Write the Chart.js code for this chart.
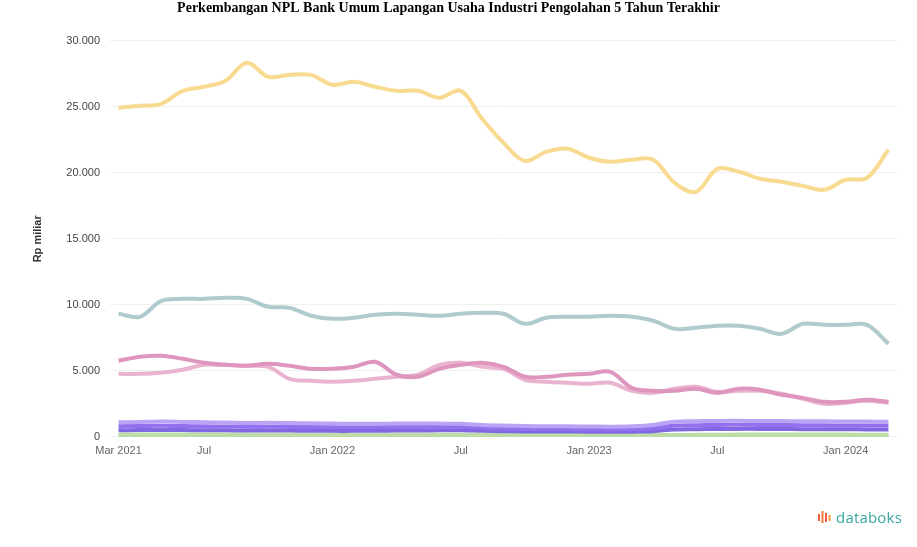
<!DOCTYPE html>
<html>
<head>
<meta charset="utf-8">
<script src="https://cdn.jsdelivr.net/npm/chart.js@4.4.0/dist/chart.umd.min.js"></script>
<style>
  html,body{margin:0;padding:0;background:#fff;}
  #wrap{position:relative;width:917px;height:547px;}
  #wm{position:absolute;left:817px;top:507px;display:flex;align-items:center;font-family:"Open Sans",sans-serif;font-size:15px;color:#3aa6a2;letter-spacing:0.2px;}
  #wm svg{margin-right:3px;}
</style>
</head>
<body>
<div id="wrap">
  <canvas id="c" width="917" height="547"></canvas>
  <div id="wm"><svg width="16" height="16" viewBox="0 0 16 16"><rect x="1" y="5" width="2" height="7" fill="#f05a3c"/><rect x="4.5" y="2" width="2" height="12" fill="#f5793a"/><rect x="8" y="4" width="2" height="9" fill="#f05a3c"/><rect x="11.5" y="6" width="2" height="6" fill="#f5993a"/></svg><span>databoks</span></div>
</div>
<script>
const months = ["Mar 2021","Apr 2021","Mei 2021","Jun 2021","Jul 2021","Agu 2021","Sep 2021","Okt 2021","Nov 2021","Des 2021",
  "Jan 2022","Feb 2022","Mar 2022","Apr 2022","Mei 2022","Jun 2022","Jul 2022","Agu 2022","Sep 2022","Okt 2022","Nov 2022","Des 2022",
  "Jan 2023","Feb 2023","Mar 2023","Apr 2023","Mei 2023","Jun 2023","Jul 2023","Agu 2023","Sep 2023","Okt 2023","Nov 2023","Des 2023",
  "Jan 2024","Feb 2024","Mar 2024"];
const xTickIndex = [0,4,10,16,22,28,34];
const xTickLabels = ["Mar 2021","Jul","Jan 2022","Jul","Jan 2023","Jul","Jan 2024"];
const yTicks = [0,5000,10000,15000,20000,25000,30000];

const total = [24925,25080,25230,26210,26515,26970,28330,27270,27420,27420,26670,26900,26515,26210,26210,25680,26210,24090,22270,20900,21590,21820,21140,20830,20990,20990,19240,18560,20300,20080,19550,19320,19010,18710,19470,19620,21740];
const seriesTeal = [9320,9090,10300,10450,10450,10530,10450,9850,9770,9170,8940,9020,9240,9320,9240,9170,9320,9390,9320,8560,9020,9090,9090,9170,9090,8790,8180,8260,8410,8410,8180,7800,8560,8480,8480,8480,7050];
const seriesPinkA = [5760,6060,6140,5910,5610,5450,5380,5530,5380,5150,5150,5300,5680,4700,4550,5150,5450,5610,5300,4550,4550,4700,4770,4920,3710,3480,3480,3640,3330,3640,3560,3180,2950,2650,2650,2800,2650];
const seriesPinkB = [4770,4770,4850,5080,5450,5450,5380,5300,4390,4240,4170,4240,4390,4550,4700,5450,5610,5300,5150,4320,4170,4090,4020,4090,3480,3330,3640,3790,3410,3480,3480,3260,2880,2500,2580,2730,2580];
const seriesPurple1 = [1100,1120,1150,1130,1100,1080,1050,1060,1040,1020,1000,980,990,1000,1010,1000,980,900,850,820,800,790,780,770,800,900,1150,1180,1200,1210,1200,1190,1180,1170,1160,1150,1140];
const seriesPurple2 = [800,820,830,810,790,780,770,760,750,740,730,720,730,740,750,760,770,700,620,600,590,580,570,560,580,650,850,880,900,910,900,890,880,870,860,860,850];
const seriesPurple3 = [500,510,520,510,500,490,480,470,470,460,450,450,460,470,480,490,500,450,420,410,400,400,390,380,390,420,560,580,590,600,600,590,580,570,570,560,550];
const seriesGreen1 = [180,180,175,170,170,165,165,160,160,160,155,155,150,150,150,150,150,145,140,140,140,135,135,130,130,130,140,150,160,165,170,170,170,165,165,160,160];
const seriesGreen2 = [60,60,60,58,58,56,56,55,55,54,54,53,52,52,50,50,50,48,46,45,45,44,44,42,42,42,45,48,50,52,52,52,50,50,50,48,48];

const seriesNames = ["Total Industri Pengolahan","Industri Makanan & Minuman","Industri Tekstil","Industri Kimia","Industri Kertas","Industri Logam","Industri Kayu","Industri Karet","Industri Lainnya"];
const seriesData = [total,seriesTeal,seriesPinkA,seriesPinkB,seriesPurple1,seriesPurple2,seriesPurple3,seriesGreen1,seriesGreen2];
const seriesColors = ["#f8da90","#b0cbce","#de96bf","#eab4d0","#b9a3f4","#9270ee","#8168e2","#bcdca8","#a8d290"];

const datasets = seriesData.map((arr,k)=>({
  label: seriesNames[k],
  data: arr.map((v,i)=>({x:i,y:v})),
  borderColor: seriesColors[k],
  backgroundColor: seriesColors[k],
  borderWidth: 4,
  pointRadius: 0,
  tension: 0.35,
  fill: false
}));

function fmt(v){return v.toString().replace(/\B(?=(\d{3})+(?!\d))/g,".");}

new Chart(document.getElementById('c'),{
  type:'line',
  data:{datasets},
  options:{
    responsive:false,
    animation:false,
    layout:{padding:{left:0,right:20,top:0,bottom:89}},
    plugins:{
      legend:{display:false},
      tooltip:{enabled:false},
      title:{display:true,text:"Perkembangan NPL Bank Umum Lapangan Usaha Industri Pengolahan 5 Tahun Terakhir",
        font:{family:"Liberation Serif",size:14,weight:'bold'},color:'#000',padding:{top:0,bottom:24}}
    },
    scales:{
      x:{type:'linear',min:-0.4,max:36.4,
        grid:{display:false},border:{display:false},
        afterBuildTicks:(s)=>{s.ticks=xTickIndex.map(v=>({value:v}));},
        ticks:{autoSkip:false,maxRotation:0,padding:0,color:'#666',font:{family:"Liberation Sans",size:11},
          callback:(v)=>{const j=xTickIndex.indexOf(v);return j>=0?xTickLabels[j]:'';}}
      },
      y:{min:0,max:30000,
        afterBuildTicks:(s)=>{s.ticks=yTicks.map(v=>({value:v}));},
        afterFit:(s)=>{s.width=110;},
        grid:{color:'#f0f0f0',drawTicks:false},border:{display:false},
        ticks:{padding:10,color:'#444',font:{family:"Liberation Sans",size:11},callback:(v)=>fmt(v)},
        title:{display:true,text:"Rp miliar",color:'#333',font:{family:"Liberation Sans",size:11,weight:'bold'},padding:{top:31,bottom:0}}
      }
    }
  }
});
</script>
</body>
</html>
